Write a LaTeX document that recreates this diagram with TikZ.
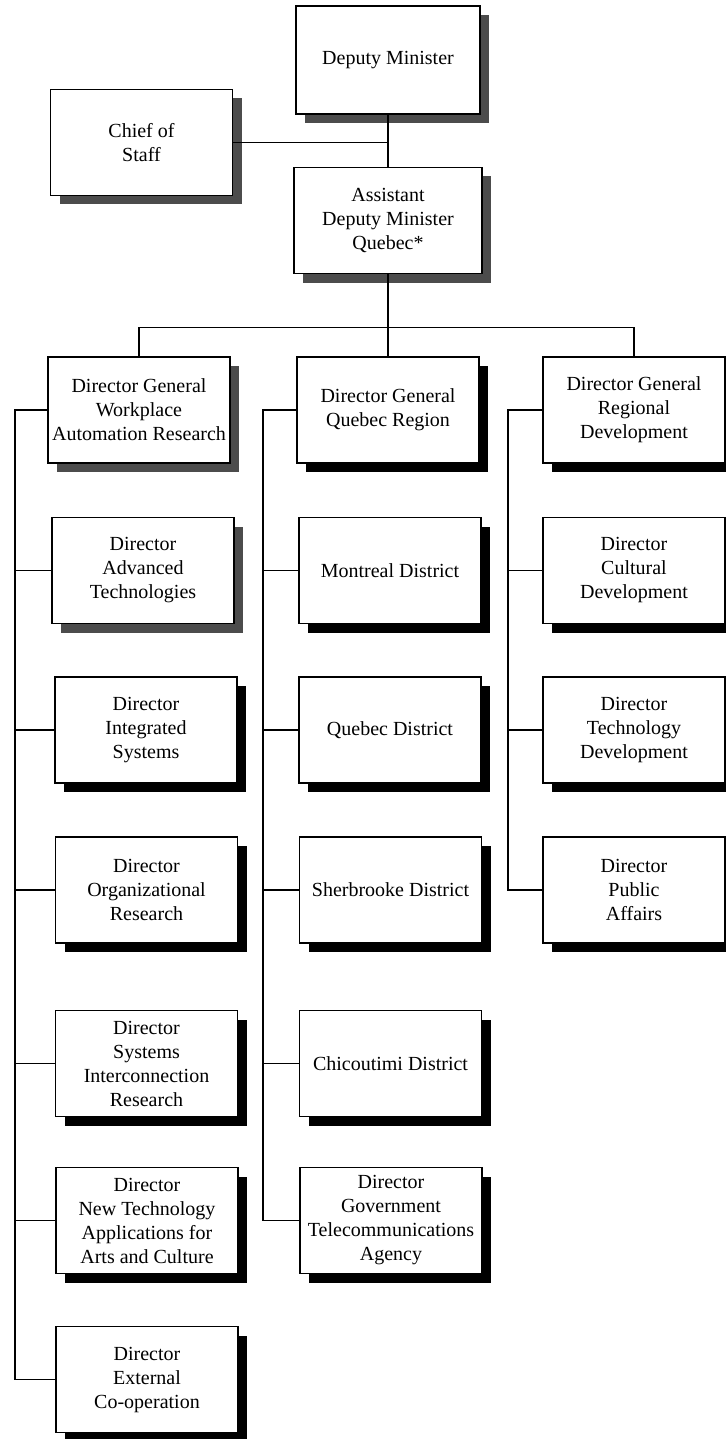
\documentclass[tikz,border=0pt]{standalone}
\usepackage{fontspec}
\setmainfont{Liberation Serif}
\usetikzlibrary{shadows}
\begin{document}
\begin{tikzpicture}[x=0.5pt,y=-0.5pt,
  boxbase/.style={draw=black, line width=0.8pt, fill=white,
    minimum width=91pt, minimum height=53pt, inner sep=2pt,
    align=center, font=\fontsize{10}{12}\selectfont},
  box/.style={boxbase, drop shadow={shadow xshift=4.5pt, shadow yshift=-4.5pt,
    fill=black, opacity=1}},
  greybox/.style={boxbase, drop shadow={shadow xshift=4.5pt, shadow yshift=-4.5pt,
    fill=black!70, opacity=1}},
  link/.style={draw=black, line width=0.55pt}]

\fill[white] (0,0) rectangle (726,1439);
\useasboundingbox (0,0) rectangle (726,1439);

% top levels
\node[greybox, minimum width=92pt, minimum height=54pt] (dm) at (388,60) {Deputy Minister};
\node[greybox] (cos) at (141.5,142.5) {Chief of\\Staff};
\node[greybox, minimum width=94pt] (adm) at (388,220.5) {Assistant\\Deputy Minister\\Quebec*};

% directors general
\node[greybox] (dg1) at (139,410) {Director General\\Workplace\\Automation Research};
\node[box] (dg2) at (388,410) {Director General\\Quebec Region};
\node[box] (dg3) at (634,410) {Director General\\Regional\\Development};

% branch 1
\node[greybox] (a1) at (143,570.5) {Director\\Advanced\\Technologies};
\node[box] (a2) at (146,730) {Director\\Integrated\\Systems};
\node[box] (a3) at (146.5,890) {Director\\Organizational\\Research};
\node[box] (a4) at (146.5,1063.5) {Director\\Systems\\Interconnection\\Research};
\node[box] (a5) at (147,1220.5) {Director\\New Technology\\Applications for\\Arts and Culture};
\node[box] (a6) at (147,1379.5) {Director\\External\\Co-operation};

% branch 2
\node[box] (b1) at (390,570.5) {Montreal District};
\node[box] (b2) at (390,730) {Quebec District};
\node[box] (b3) at (390.5,890) {Sherbrooke District};
\node[box] (b4) at (390.5,1063.5) {Chicoutimi District};
\node[box] (b5) at (391,1220.5) {Director\\Government\\Telecommunications\\Agency};

% branch 3
\node[box] (c1) at (634,570.5) {Director\\Cultural\\Development};
\node[box] (c2) at (634,730) {Director\\Technology\\Development};
\node[box] (c3) at (634,890) {Director\\Public\\Affairs};

% spines of the three branches
\coordinate (s1) at (15,0);
\coordinate (s2) at (263,0);
\coordinate (s3) at (508,0);

% connectors
\draw[link] (dm.south) -- (adm.north);
\draw[link] (cos.east) -- (cos.east -| dm.south);
\draw[link] (adm.south) -- (dg2.north);
\draw[link] (dg1.north) -- ++(0,-29) -| (dg3.north);

\draw[link] (dg1.west) -| (s1 |- a6.west) -- (a6.west);
\foreach \n in {a1,a2,a3,a4,a5} \draw[link] (\n.west) -- (\n.west -| s1);

\draw[link] (dg2.west) -| (s2 |- b5.west) -- (b5.west);
\foreach \n in {b1,b2,b3,b4} \draw[link] (\n.west) -- (\n.west -| s2);

\draw[link] (dg3.west) -| (s3 |- c3.west) -- (c3.west);
\foreach \n in {c1,c2} \draw[link] (\n.west) -- (\n.west -| s3);
\end{tikzpicture}
\end{document}
